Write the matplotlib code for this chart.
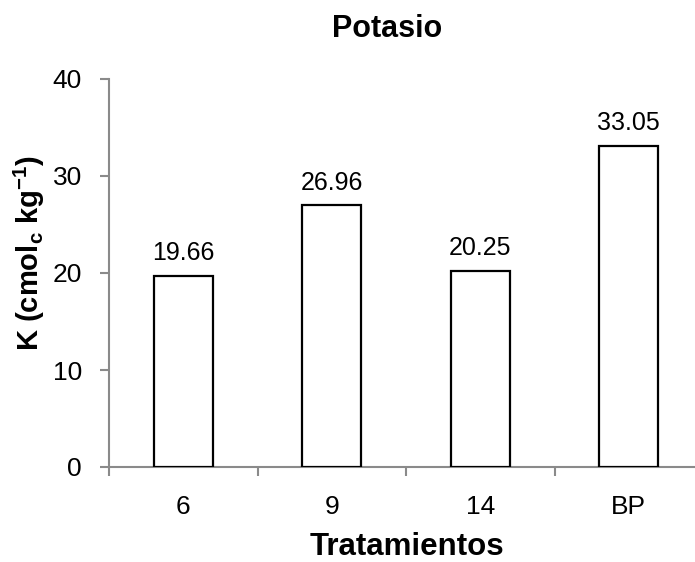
import matplotlib
matplotlib.use("Agg")
import matplotlib.pyplot as plt
import numpy as np

# Data ------------------------
categories = ["6", "9", "14", "BP"]
values = [19.66, 26.96, 20.25, 33.05]
value_labels = ["19.66", "26.96", "20.25", "33.05"]
yticks = [0, 10, 20, 30, 40]
# -----------------------------

plt.rcParams["font.family"] = ["Liberation Sans", "DejaVu Sans"]
plt.rcParams["mathtext.fontset"] = "custom"
plt.rcParams["mathtext.bf"] = "Liberation Sans:bold"
plt.rcParams["mathtext.rm"] = "Liberation Sans"

grey = "#8a8a8a"

fig = plt.figure(figsize=(6.95, 5.62), dpi=100)
# plot area runs past the right edge, as in the reference
ax = fig.add_axes([109 / 695, 95 / 562, 594 / 695, 388 / 562])

x = np.arange(len(categories))
ax.bar(x, values, width=0.40, color="white", edgecolor="black", linewidth=1.6, zorder=3)

for xi, v, lab in zip(x, values, value_labels):
    ax.annotate(lab, (xi, v), xytext=(0, 11.5), textcoords="offset points",
                ha="center", va="baseline", fontsize=18)

ax.set_xlim(-0.5, len(categories) - 0.5)
ax.set_ylim(0, 40)
ax.set_yticks(yticks)
ax.set_xticks(x)
ax.set_xticklabels(categories)
ax.set_xticks(np.arange(len(categories) + 1) - 0.5, minor=True)

for s in ["top", "right"]:
    ax.spines[s].set_visible(False)
for s in ["left", "bottom"]:
    ax.spines[s].set_color(grey)
    ax.spines[s].set_linewidth(1.5)

ax.tick_params(axis="y", direction="out", length=6.5, width=1.5, color=grey, pad=13, labelsize=19)
ax.tick_params(axis="x", which="major", length=0, pad=20, labelsize=19)
ax.tick_params(axis="x", which="minor", direction="out", length=6.5, width=1.5, color=grey)

fig.text(387 / 695, 1 - 37 / 562, "Potasio", ha="center", va="baseline",
         fontsize=22, fontweight="bold")
fig.text(407 / 695, 1 - 555 / 562, "Tratamientos", ha="center", va="baseline",
         fontsize=22.5, fontweight="bold")
fig.text(29 / 695, 1 - 253 / 562, r"K (cmol$_\mathbf{c}$ kg$^\mathbf{-1}$)", ha="center",
         va="center", rotation=90, fontsize=21, fontweight="bold")

fig.savefig("out.png", dpi=100)
